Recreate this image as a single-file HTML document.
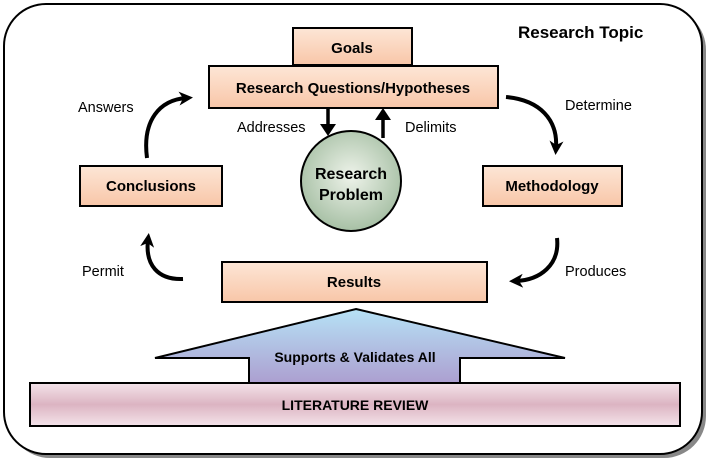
<!DOCTYPE html>
<html><head><style>
body{margin:0;background:#fff;}
svg text{font-family:"Liberation Sans",sans-serif;}
</style></head><body>
<svg width="714" height="464" viewBox="0 0 714 464" xmlns="http://www.w3.org/2000/svg">
<defs>
<linearGradient id="box" x1="0" y1="0" x2="0" y2="1"><stop offset="0" stop-color="#fde6d6"/><stop offset="1" stop-color="#f8c6a8"/></linearGradient>
<radialGradient id="circ" cx="0.5" cy="0.45" r="0.55"><stop offset="0" stop-color="#eef3ea"/><stop offset="1" stop-color="#a7c0a5"/></radialGradient>
<linearGradient id="arr" x1="0" y1="0" x2="0" y2="1"><stop offset="0" stop-color="#b6e2f6"/><stop offset="1" stop-color="#ac9fd0"/></linearGradient>
<linearGradient id="lit" x1="0" y1="0" x2="0" y2="1"><stop offset="0" stop-color="#f4e4ea"/><stop offset="0.5" stop-color="#dcb4c2"/><stop offset="1" stop-color="#f4e4ea"/></linearGradient>
<marker id="ah2" markerWidth="14" markerHeight="14" refX="7" refY="7" orient="auto" markerUnits="userSpaceOnUse"><path d="M0,0 L14,7 L0,14 L4,7z" fill="#000"/></marker>
</defs>
<rect x="8" y="8" width="698" height="450" rx="42" fill="#888"/>
<rect x="4" y="4" width="698" height="450" rx="42" fill="#fff" stroke="#000" stroke-width="2"/>
<text x="518" y="38" font-size="17" font-weight="bold">Research Topic</text>
<rect x="293" y="28" width="119" height="37" fill="url(#box)" stroke="#000" stroke-width="2"/>
<text x="352" y="53" font-size="15" font-weight="bold" text-anchor="middle">Goals</text>
<rect x="209" y="66" width="289" height="42" fill="url(#box)" stroke="#000" stroke-width="2"/>
<text x="353" y="93" font-size="15" font-weight="bold" text-anchor="middle">Research Questions/Hypotheses</text>
<line x1="328" y1="109" x2="328" y2="126" stroke="#000" stroke-width="3.5"/>
<path d="M320,124 L336,124 L328,136z" fill="#000"/>
<line x1="383" y1="138" x2="383" y2="118" stroke="#000" stroke-width="3.5"/>
<path d="M375,120 L391,120 L383,108z" fill="#000"/>
<text x="237" y="132" font-size="14.5">Addresses</text>
<text x="405" y="132" font-size="14.5">Delimits</text>
<circle cx="351" cy="181" r="50" fill="url(#circ)" stroke="#000" stroke-width="2"/>
<text x="351" y="179" font-size="16" font-weight="bold" text-anchor="middle">Research</text>
<text x="351" y="200" font-size="16" font-weight="bold" text-anchor="middle">Problem</text>
<rect x="80" y="166" width="142" height="40" fill="url(#box)" stroke="#000" stroke-width="2"/>
<text x="151" y="191" font-size="15" font-weight="bold" text-anchor="middle">Conclusions</text>
<rect x="483" y="166" width="139" height="40" fill="url(#box)" stroke="#000" stroke-width="2"/>
<text x="552" y="191" font-size="15" font-weight="bold" text-anchor="middle">Methodology</text>
<rect x="222" y="262" width="265" height="40" fill="url(#box)" stroke="#000" stroke-width="2"/>
<text x="354" y="287" font-size="15" font-weight="bold" text-anchor="middle">Results</text>
<g fill="none" stroke="#000" stroke-width="4">
<path d="M147,158 C142,120 160,100 186,98" marker-end="url(#ah2)"/>
<path d="M506,97 C540,100 558,120 556,148" marker-end="url(#ah2)"/>
<path d="M557,238 C560,265 540,280 516,281" marker-end="url(#ah2)"/>
<path d="M183,279 C158,280 145,265 148,240" marker-end="url(#ah2)"/>
</g>
<text x="78" y="112" font-size="14.5">Answers</text>
<text x="565" y="110" font-size="14.5">Determine</text>
<text x="82" y="276" font-size="14.5">Permit</text>
<text x="565" y="276" font-size="14.5">Produces</text>
<path d="M356,309 L565,358 L460,358 L460,383 L249,383 L249,358 L155,358z" fill="url(#arr)" stroke="#000" stroke-width="2"/>
<text x="355" y="362" font-size="14" font-weight="bold" text-anchor="middle">Supports &amp; Validates All</text>
<rect x="30" y="383" width="650" height="43" fill="url(#lit)" stroke="#000" stroke-width="2"/>
<text x="355" y="410" font-size="14" font-weight="bold" text-anchor="middle">LITERATURE REVIEW</text>
</svg>
</body></html>
